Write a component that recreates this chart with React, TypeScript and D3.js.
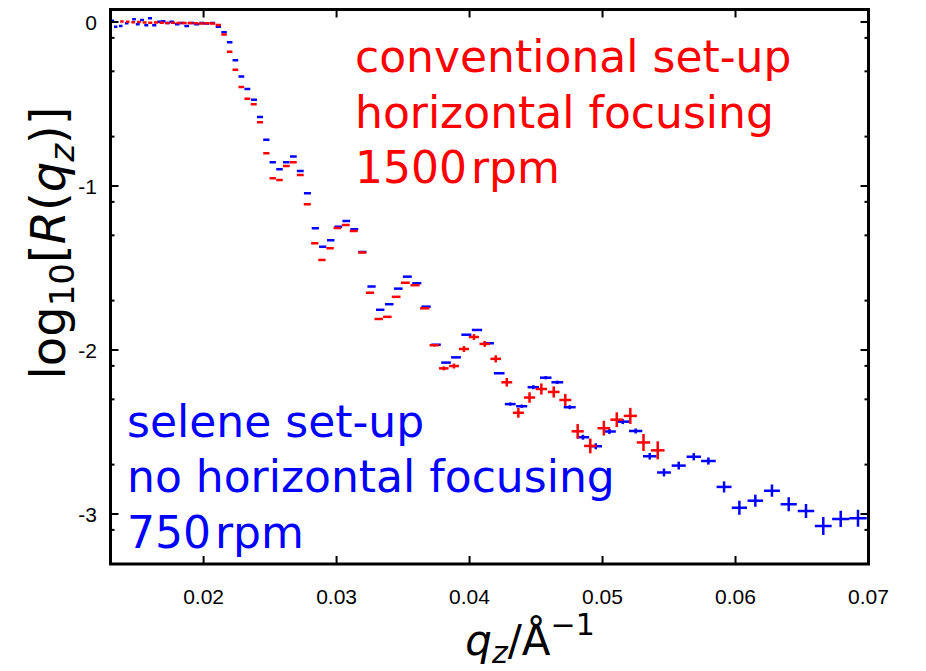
import React from "react";
import * as d3 from "d3";

// selene set-up (blue): q_z [1/Å], log10 R, half vertical error (log units)
const blueQ = [
  0.01314, 0.01339, 0.01377, 0.01422, 0.01477, 0.01505, 0.01537, 0.01569, 0.01597, 0.01629,
  0.01667, 0.01697, 0.01729, 0.0176, 0.01802, 0.01838, 0.01873, 0.01909, 0.01948, 0.01986,
  0.02023, 0.02067, 0.02111, 0.02154, 0.02196, 0.02239, 0.02284, 0.02329, 0.02379, 0.02424,
  0.02472, 0.0252, 0.02571, 0.02622, 0.02675, 0.02727, 0.02781, 0.0284, 0.02896, 0.02956,
  0.03013, 0.03073, 0.03133, 0.03194, 0.03263, 0.03328, 0.03396, 0.03464, 0.03532, 0.03603,
  0.03673, 0.03748, 0.03823, 0.03898, 0.03976, 0.04056, 0.04144, 0.04223, 0.04306, 0.04392,
  0.04479, 0.04573, 0.0466, 0.04753, 0.04853, 0.04949, 0.05052, 0.05152, 0.05249, 0.05355,
  0.05462, 0.05573, 0.05686, 0.05796, 0.05914, 0.06029, 0.06149, 0.06274, 0.064, 0.0653,
  0.0666, 0.06791, 0.06921,
];
const blueLogR = [
  0.008, -0.029, -0.024, -0.008, 0.016, -0.014, 0.012, -0.02, 0.023, -0.02,
  0.002, 0.004, -0.006, 0.002, -0.014, -0.006, -0.024, -0.006, -0.014, -0.006,
  -0.01, -0.006, -0.029, -0.063, -0.124, -0.234, -0.332, -0.409, -0.474, -0.579,
  -0.718, -0.856, -0.898, -0.855, -0.821, -0.909, -1.044, -1.258, -1.37, -1.331,
  -1.248, -1.213, -1.264, -1.402, -1.613, -1.755, -1.721, -1.626, -1.553, -1.593,
  -1.736, -1.968, -2.077, -2.045, -1.907, -1.878, -1.959, -2.142, -2.33, -2.343,
  -2.227, -2.169, -2.197, -2.349, -2.532, -2.587, -2.497, -2.437, -2.494, -2.648,
  -2.747, -2.705, -2.651, -2.677, -2.835, -2.962, -2.919, -2.858, -2.941, -2.982,
  -3.073, -3.03, -3.026,
];
const blueErr = [
  0, 0, 0, 0, 0, 0, 0, 0, 0, 0,
  0, 0, 0, 0, 0, 0, 0, 0, 0, 0,
  0, 0, 0, 0, 0, 0, 0, 0, 0, 0,
  0, 0, 0, 0, 0, 0, 0, 0, 0, 0,
  0, 0, 0, 0, 0, 0, 0, 0, 0, 0,
  0, 0, 0, 0, 0, 0, 0.005, 0.005, 0.01, 0.01,
  0.012, 0.01, 0.01, 0.012, 0.015, 0.018, 0.015, 0.015, 0.015, 0.02,
  0.024, 0.024, 0.022, 0.022, 0.034, 0.043, 0.037, 0.037, 0.043, 0.043,
  0.055, 0.049, 0.052,
];

// conventional set-up (red)
const redQ = [
  0.01386, 0.01429, 0.01471, 0.01514, 0.01557, 0.01599, 0.01642, 0.01685, 0.01727, 0.0177,
  0.01813, 0.01855, 0.01898, 0.01941, 0.01983, 0.02026, 0.02068, 0.02111, 0.02154, 0.02196,
  0.02239, 0.02284, 0.02329, 0.02377, 0.02424, 0.02472, 0.0252, 0.02571, 0.02622, 0.02675,
  0.02727, 0.0278, 0.02836, 0.0289, 0.02951, 0.03006, 0.03069, 0.03129, 0.03193, 0.03251,
  0.03317, 0.03382, 0.03448, 0.03517, 0.0359, 0.03663, 0.03735, 0.03806, 0.03883, 0.03958,
  0.04033, 0.04114, 0.04197, 0.0428, 0.04367, 0.04451, 0.0454, 0.04633, 0.0472, 0.04813,
  0.04908, 0.0501, 0.05107, 0.05209, 0.05308, 0.05415,
];
const redLogR = [
  0.003, 0.001, -0.002, 0.0, -0.003, -0.005, -0.003, -0.005, -0.006, -0.005,
  -0.006, -0.007, -0.006, -0.008, -0.009, -0.008, -0.01, -0.018, -0.077, -0.181,
  -0.291, -0.396, -0.468, -0.502, -0.612, -0.801, -0.953, -0.963, -0.878, -0.855,
  -0.933, -1.112, -1.349, -1.451, -1.38, -1.256, -1.238, -1.274, -1.405, -1.651,
  -1.811, -1.798, -1.676, -1.59, -1.605, -1.746, -1.971, -2.112, -2.098, -1.994,
  -1.921, -1.963, -2.054, -2.197, -2.383, -2.29, -2.238, -2.256, -2.305, -2.496,
  -2.585, -2.477, -2.425, -2.402, -2.564, -2.612,
];
const redErr = [
  0, 0, 0, 0, 0, 0, 0, 0, 0, 0,
  0, 0, 0, 0, 0, 0, 0, 0, 0, 0,
  0, 0, 0, 0, 0, 0, 0, 0, 0, 0,
  0, 0, 0, 0, 0, 0, 0, 0, 0, 0,
  0, 0, 0, 0, 0, 0, 0.008, 0.012, 0.015, 0.018,
  0.018, 0.018, 0.022, 0.026, 0.03, 0.032, 0.034, 0.034, 0.037, 0.045,
  0.045, 0.045, 0.045, 0.049, 0.052, 0.055,
];

// relative q-resolution (half width of horizontal bar, dq/q)
const qResolution = 0.0095;

const xTicks = [0.02, 0.03, 0.04, 0.05, 0.06, 0.07];
const xTickLabels = ["0.02", "0.03", "0.04", "0.05", "0.06", "0.07"];
const yTicks = [0, -1, -2, -3];
const yTickLabels = ["0", "-1", "-2", "-3"];
const yMinorOffsets = [-0.097, -0.301, -0.699];

const xDomain = [0.013, 0.07];
const yDomain = [-3.305, 0.076];

const W = 926;
const H = 671;
const M = { left: 110.5, right: 868.5, top: 9.5, bottom: 564 };

const RED = "#ff0000";
const BLUE = "#0000ff";

function Series({ q, r, e, color, x, y }) {
  return (
    <g stroke={color} strokeWidth={2.5} fill="none">
      {q.map((qv, i) => {
        const dq = qv * qResolution;
        const cx = x(qv);
        const cy = y(r[i]);
        return (
          <g key={i}>
            <line x1={x(qv - dq)} x2={x(qv + dq)} y1={cy} y2={cy} />
            {e[i] > 0 && <line x1={cx} x2={cx} y1={y(r[i] + e[i])} y2={y(r[i] - e[i])} />}
          </g>
        );
      })}
    </g>
  );
}

export default function App() {
  const x = d3.scaleLinear().domain(xDomain).range([M.left, M.right]);
  const y = d3.scaleLinear().domain(yDomain).range([M.bottom, M.top]);
  const minorTicks: number[] = [];
  yTicks.forEach((t) => yMinorOffsets.forEach((o) => {
    const v = t + o;
    if (v > yDomain[0] + 0.01) minorTicks.push(v);
  }));
  const tickFont = "'Liberation Sans Narrow', 'Liberation Sans', Arial, sans-serif";
  const labelFont = "'DejaVu Sans', Verdana, sans-serif";
  return (
    <svg width={W} height={H} style={{ position: "absolute", left: 0, top: 0, background: "#fff" }}>
      <rect x={0} y={0} width={W} height={H} fill="#fff" />
      <defs>
        <clipPath id="plotclip">
          <rect x={M.left} y={M.top} width={M.right - M.left} height={M.bottom - M.top} />
        </clipPath>
      </defs>
      <g clipPath="url(#plotclip)">
        <Series q={blueQ} r={blueLogR} e={blueErr} color={BLUE} x={x} y={y} />
        <Series q={redQ} r={redLogR} e={redErr} color={RED} x={x} y={y} />
      </g>
      {/* ticks */}
      <g stroke="#000" strokeWidth={2}>
        {xTicks.map((t) => (
          <g key={t}>
            <line x1={x(t)} x2={x(t)} y1={M.bottom} y2={M.bottom - 8} />
            <line x1={x(t)} x2={x(t)} y1={M.top} y2={M.top + 8} />
          </g>
        ))}
        {yTicks.map((t) => (
          <g key={t}>
            <line x1={M.left} x2={M.left + 8} y1={y(t)} y2={y(t)} />
            <line x1={M.right} x2={M.right - 8} y1={y(t)} y2={y(t)} />
          </g>
        ))}
        {minorTicks.map((t, i) => (
          <g key={i}>
            <line x1={M.left} x2={M.left + 4} y1={y(t)} y2={y(t)} />
            <line x1={M.right} x2={M.right - 4} y1={y(t)} y2={y(t)} />
          </g>
        ))}
      </g>
      <rect x={M.left} y={M.top} width={M.right - M.left} height={M.bottom - M.top}
        fill="none" stroke="#000" strokeWidth={3} />
      {/* tick labels */}
      <g fontFamily={tickFont} fontSize={21} fill="#000">
        {xTicks.map((t, i) => (
          <text key={t} x={x(t)} y={604} textAnchor="middle">{xTickLabels[i]}</text>
        ))}
        {yTicks.map((t, i) => (
          <text key={t} x={97} y={y(t) + 8} textAnchor="end">{yTickLabels[i]}</text>
        ))}
      </g>
      {/* axis titles */}
      <text fontFamily={labelFont} fontSize={48} fill="#000" textAnchor="middle"
        transform="translate(65,243) rotate(-90)">
        <tspan>log</tspan>
        <tspan fontSize={34} dy={9}>10</tspan>
        <tspan dy={-9}>[</tspan>
        <tspan fontStyle="italic">R</tspan>
        <tspan>(</tspan>
        <tspan fontStyle="italic">q</tspan>
        <tspan fontStyle="italic" fontSize={34} dy={9}>z</tspan>
        <tspan dy={-9}>)]</tspan>
      </text>
      <text fontFamily={labelFont} fontSize={42} fill="#000" textAnchor="middle" x={530} y={655}>
        <tspan fontStyle="italic">q</tspan>
        <tspan fontStyle="italic" fontSize={30} dy={8}>z</tspan>
        <tspan dy={-8}>/Å</tspan>
        <tspan fontSize={30} dy={-20}>−1</tspan>
      </text>
      {/* annotations */}
      <g fontFamily={labelFont} fontSize={44} fill={RED}>
        <text x={355} y={72}>conventional set-up</text>
        <text x={355} y={128}>horizontal focusing</text>
        <text x={355} y={183}>1500<tspan dx={4}>rpm</tspan></text>
      </g>
      <g fontFamily={labelFont} fontSize={44} fill={BLUE}>
        <text x={127} y={437}>selene set-up</text>
        <text x={127} y={492}>no horizontal focusing</text>
        <text x={127} y={548}>750<tspan dx={4}>rpm</tspan></text>
      </g>
    </svg>
  );
}
